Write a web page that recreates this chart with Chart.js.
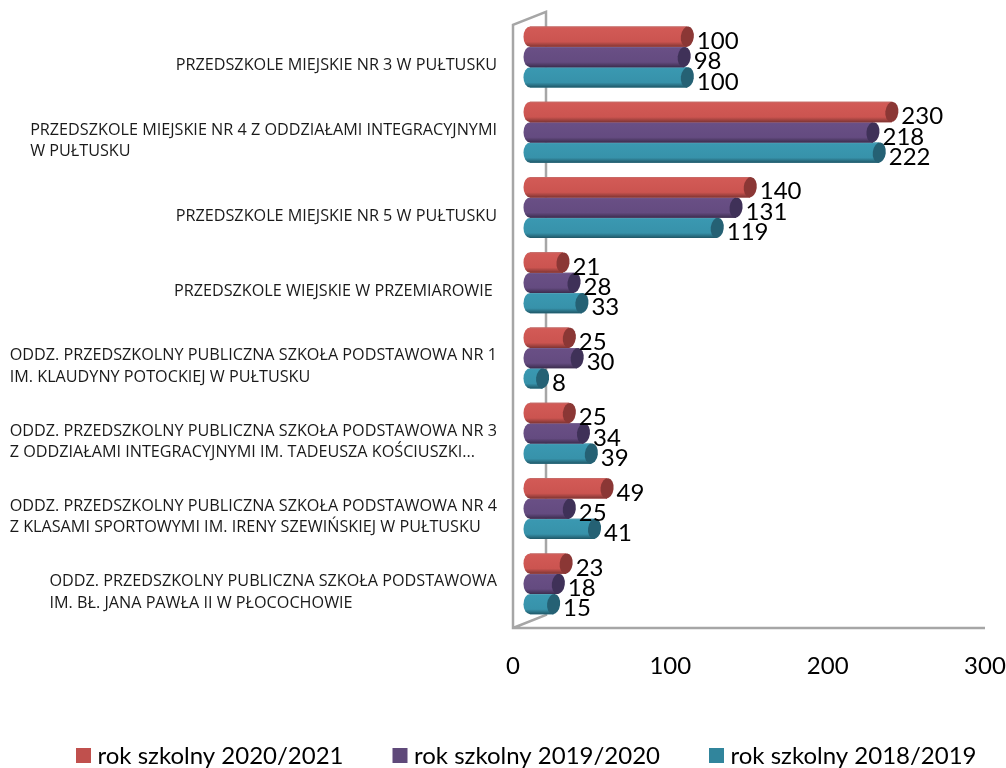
<!DOCTYPE html>
<html lang="pl">
<head>
<meta charset="utf-8">
<title>Przedszkola</title>
<script src="https://cdn.jsdelivr.net/npm/chart.js@4"></script>
<style>
  html, body { margin: 0; padding: 0; background: #fff; }
  canvas { display: block; }
</style>
</head>
<body>
<canvas id="chart" width="1006" height="768"></canvas>
<script>
const categories = [
  ['PRZEDSZKOLE MIEJSKIE NR 3 W PUŁTUSKU'],
  ['PRZEDSZKOLE MIEJSKIE NR 4 Z ODDZIAŁAMI INTEGRACYJNYMI', 'W PUŁTUSKU'],
  ['PRZEDSZKOLE MIEJSKIE NR 5 W PUŁTUSKU'],
  ['PRZEDSZKOLE WIEJSKIE W PRZEMIAROWIE '],
  ['ODDZ. PRZEDSZKOLNY PUBLICZNA SZKOŁA PODSTAWOWA NR 1', 'IM. KLAUDYNY POTOCKIEJ W PUŁTUSKU'],
  ['ODDZ. PRZEDSZKOLNY PUBLICZNA SZKOŁA PODSTAWOWA NR 3', 'Z ODDZIAŁAMI INTEGRACYJNYMI IM. TADEUSZA KOŚCIUSZKI...'],
  ['ODDZ. PRZEDSZKOLNY PUBLICZNA SZKOŁA PODSTAWOWA NR 4', 'Z KLASAMI SPORTOWYMI IM. IRENY SZEWIŃSKIEJ W PUŁTUSKU'],
  ['ODDZ. PRZEDSZKOLNY PUBLICZNA SZKOŁA PODSTAWOWA', 'IM. BŁ. JANA PAWŁA II W PŁOCOCHOWIE']
];
const rok2020 = [100, 230, 140, 21, 25, 25, 49, 23];
const rok2019 = [98, 218, 131, 28, 30, 34, 25, 18];
const rok2018 = [100, 222, 119, 33, 8, 39, 41, 15];
const xTicks = [0, 100, 200, 300];

const colorRed = '#C0504D';
const colorPurple = '#5F497A';
const colorTeal = '#31859C';
const colorGrey = '#a6a6a6';

// odcienie walca: jasna krawedz, srodek, ciemny dol, denko
const shades = {
  [colorRed]: ['#c46e6b', '#d25a56', '#cb5450', '#7f3533', '#8b3735'],
  [colorPurple]: ['#7d6896', '#694f85', '#644b80', '#3c2d4e', '#3f3158'],
  [colorTeal]: ['#5ba5b9', '#3a98b1', '#3792aa', '#1f5666', '#256174']
};

const labelFont = '16.2px "Open Sans"';
const valueFont = '24px Lato';

// sciany i podloga ukladu 3D
const framePlugin = {
  id: 'frame',
  beforeDatasetsDraw(chart) {
    const { ctx, chartArea: a } = chart;
    const floor = a.bottom + 6.5, depth = 33, rise = 13;
    ctx.save();
    ctx.strokeStyle = colorGrey;
    ctx.lineWidth = 2.5;
    ctx.beginPath();
    ctx.moveTo(a.right, floor);
    ctx.lineTo(a.left, floor);
    ctx.lineTo(a.left, a.top + 5.5);
    ctx.lineTo(a.left + depth, a.top + 5.5 - rise);
    ctx.lineTo(a.left + depth, floor - rise);
    ctx.lineTo(a.left, floor);
    ctx.stroke();
    ctx.restore();
  }
};

// walce na slupkach + denka
const cylinderPlugin = {
  id: 'cylinder',
  afterDatasetDraw(chart, args) {
    const { ctx } = chart;
    const col = chart.data.datasets[args.index].backgroundColor;
    const s = shades[col];
    const rx = 6.5;
    args.meta.data.forEach(function(bar) {
      const top = bar.y - bar.height / 2, bottom = bar.y + bar.height / 2;
      const g = ctx.createLinearGradient(0, top, 0, bottom);
      g.addColorStop(0, s[0]);
      g.addColorStop(0.07, s[1]);
      g.addColorStop(0.75, s[2]);
      g.addColorStop(1, s[3]);
      ctx.save();
      ctx.fillStyle = g;
      ctx.beginPath();
      ctx.ellipse(bar.base, bar.y, rx, bar.height / 2, 0, Math.PI / 2, Math.PI * 1.5);
      ctx.lineTo(bar.x, top);
      ctx.lineTo(bar.x, bottom);
      ctx.closePath();
      ctx.fill();
      ctx.fillStyle = s[4];
      ctx.beginPath();
      ctx.ellipse(bar.x, bar.y, rx, bar.height / 2, 0.12, 0, Math.PI * 2);
      ctx.fill();
      ctx.restore();
    });
  }
};

// opisy kategorii (wyrownane do lewej w bloku, blok do prawej), wartosci, legenda
const textPlugin = {
  id: 'texts',
  afterDatasetsDraw(chart) {
    const { ctx, scales } = chart;
    ctx.save();
    ctx.fillStyle = '#1a1a1a';
    ctx.font = labelFont;
    ctx.textBaseline = 'middle';
    ctx.textAlign = 'left';
    categories.forEach(function(lines, i) {
      const cy = scales.y.getPixelForTick(i) + 8.5;
      const w = Math.max(...lines.map(l => ctx.measureText(l).width));
      lines.forEach(function(line, j) {
        ctx.fillText(line, 497 - w, cy + (j - (lines.length - 1) / 2) * 21.5);
      });
    });
    ctx.font = valueFont;
    chart.data.datasets.forEach(function(ds, d) {
      ctx.fillStyle = '#000';
      chart.getDatasetMeta(d).data.forEach(function(bar, i) {
        ctx.fillText(ds.data[i], bar.x + 9.5, bar.y + 4.5);
      });
      // legenda
      const lx = 76 + d * 316.5;
      ctx.fillStyle = ds.backgroundColor;
      ctx.fillRect(lx, 748, 15, 15);
      ctx.fillStyle = '#000';
      ctx.fillText(ds.label, lx + 21.5, 756);
    });
    ctx.restore();
  }
};

new Chart(document.getElementById('chart').getContext('2d'), {
  type: 'bar',
  data: {
    labels: categories,
    datasets: [
      { label: 'rok szkolny 2020/2021', data: rok2020, backgroundColor: colorRed, xAxisID: 'xBars' },
      { label: 'rok szkolny 2019/2020', data: rok2019, backgroundColor: colorPurple, xAxisID: 'xBars' },
      { label: 'rok szkolny 2018/2019', data: rok2018, backgroundColor: colorTeal, xAxisID: 'xBars' }
    ]
  },
  options: {
    indexAxis: 'y',
    responsive: false,
    animation: false,
    categoryPercentage: 0.81,
    barPercentage: 1,
    layout: { padding: { top: 19.4, right: 21, bottom: 0, left: 0 } },
    scales: {
      y: {
        grid: { display: false },
        border: { display: false },
        ticks: { display: false },
        afterFit(s) { s.width = 513; }
      },
      x: {
        position: 'bottom',
        min: 0,
        max: 300,
        afterBuildTicks(s) { s.ticks = xTicks.map(v => ({ value: v })); },
        grid: { display: false },
        border: { display: false },
        ticks: {
          padding: 22,
          color: '#000',
          maxRotation: 0,
          font: { family: 'Lato', size: 24 }
        },
        afterFit(s) { s.height = 146.5; s.paddingLeft = 0; s.paddingRight = 0; }
      },
      // slupki zaczynaja sie na tylnej scianie, stad przesuniete zero
      xBars: { display: false, min: -10.8, max: 289.2 }
    },
    plugins: {
      tooltip: { enabled: false },
      legend: { display: false }
    }
  },
  plugins: [framePlugin, cylinderPlugin, textPlugin]
});
</script>
</body>
</html>
